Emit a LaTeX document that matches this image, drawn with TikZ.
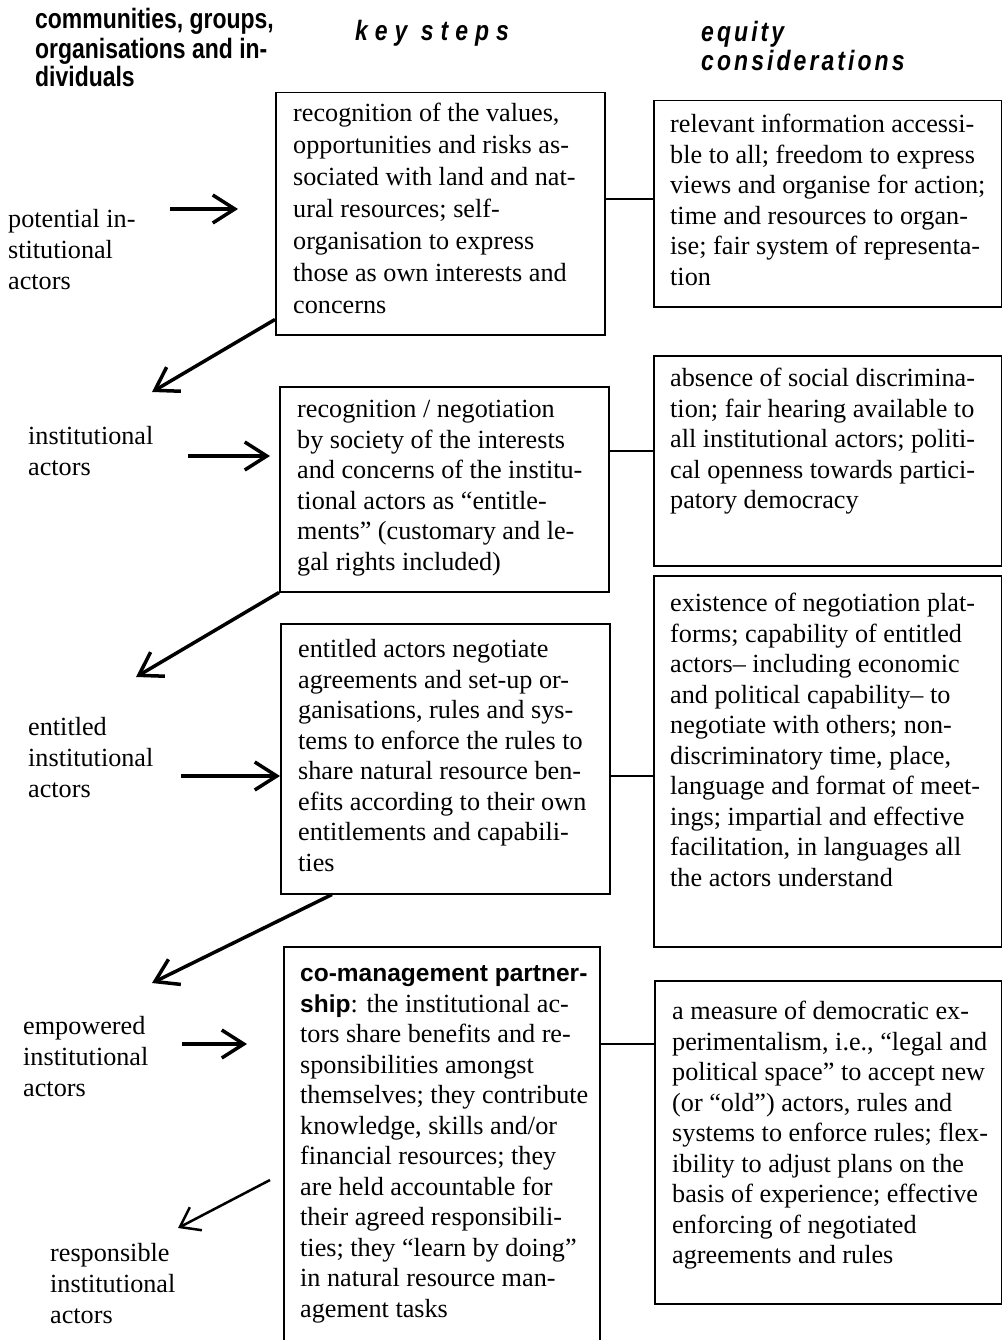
\documentclass[tikz,border=0pt]{standalone}
\usepackage{fontspec}
\setmainfont{Liberation Serif}
\newfontfamily\hdr[FakeStretch=0.82]{Liberation Sans}
\newfontfamily\hdrsp[FakeStretch=0.82,LetterSpace=11]{Liberation Sans}
\newfontfamily\hdrk[FakeStretch=0.82,LetterSpace=25]{Liberation Sans}
\newfontfamily\bsans{Liberation Sans}
\usetikzlibrary{arrows.meta}
\begin{document}
\begin{tikzpicture}[x=1pt,y=-1pt,
  box/.style={draw,line width=1.5pt,rectangle,inner sep=0pt,anchor=north west},
  txt/.style={anchor=north west,inner sep=0pt,align=left,font=\fontsize{26.2}{30.5}\selectfont},
  txtw/.style={anchor=north west,inner sep=0pt,align=left,font=\fontsize{26.2}{32}\selectfont},
  lab/.style={anchor=north west,inner sep=0pt,align=left,font=\fontsize{26.2}{31}\selectfont},
  hd/.style={anchor=north west,inner sep=0pt,align=left,font=\hdr\bfseries\fontsize{28}{28.5}\selectfont},
  hdi/.style={anchor=north west,inner sep=0pt,align=left,font=\hdrsp\bfseries\itshape\fontsize{28}{27}\selectfont},
  hdk/.style={anchor=north west,inner sep=0pt,align=left,font=\hdrk\bfseries\itshape\fontsize{28}{27}\selectfont},
  arr/.style={line width=3.5pt,-{Straight Barb[length=22pt,width=28pt]}},
  arrs/.style={line width=2.5pt,-{Straight Barb[length=18pt,width=26pt]}},
  link/.style={line width=1.2pt}]
\useasboundingbox (0,0) rectangle (1002,1340);
\clip (0,0) rectangle (1002,1340);

% headers
\node[hd] (h1) at (35,8) {\strut communities, groups,\\organisations and in-\\dividuals};
\node[hdk] (h2) at (355,20) {\strut key steps};
\node[hdi] (h3) at (701,21) {\strut equity\\considerations};

% boxes
\node[box,minimum width=329pt,minimum height=242pt] (L1) at (275,92) {};
\node[box,minimum width=347.5pt,minimum height=206pt] (R1) at (653,100) {};
\node[box,minimum width=329pt,minimum height=205pt] (L2) at (279,386) {};
\node[box,minimum width=347.5pt,minimum height=210pt] (R2) at (653,355) {};
\node[box,minimum width=329pt,minimum height=270pt] (L3) at (280,623) {};
\node[box,minimum width=347.5pt,minimum height=371pt] (R3) at (653,575) {};
\node[box,minimum width=316pt,minimum height=420pt] (L4) at (283,946) {};
\node[box,minimum width=346.5pt,minimum height=323pt] (R4) at (654,980) {};

% box texts
\node[txtw] (t1) at (293,99) {\strut recognition of the values,\\opportunities and risks as-\\sociated with land and nat-\\ural resources; self-\\organisation to express\\those as own interests and\\concerns};
\node[txt] (u1) at (670,111) {\strut relevant information accessi-\\ble to all; freedom to express\\views and organise for action;\\time and resources to organ-\\ise; fair system of representa-\\tion};
\node[txt] (t2) at (297,396) {\strut recognition / negotiation\\by society of the interests\\and concerns of the institu-\\tional actors as “entitle-\\ments” (customary and le-\\gal rights included)};
\node[txt] (u2) at (670,365) {\strut absence of social discrimina-\\tion; fair hearing available to\\all institutional actors; politi-\\cal openness towards partici-\\patory democracy};
\node[txt] (t3) at (298,636) {\strut entitled actors negotiate\\agreements and set-up or-\\ganisations, rules and sys-\\tems to enforce the rules to\\share natural resource ben-\\efits according to their own\\entitlements and capabili-\\ties};
\node[txt] (u3) at (670,590) {\strut existence of negotiation plat-\\forms; capability of entitled\\actors– including economic\\and political capability– to\\negotiate with others; non-\\discriminatory time, place,\\language and format of meet-\\ings; impartial and effective\\facilitation, in languages all\\the actors understand};
\node[txt] (t4) at (300,960) {\strut{\bsans\bfseries\fontsize{24.5}{30.5}\selectfont co-management partner-}\\{\bsans\bfseries\fontsize{24.5}{30.5}\selectfont ship}: the institutional ac-\\tors share benefits and re-\\sponsibilities amongst\\themselves; they contribute\\knowledge, skills and/or\\financial resources; they\\are held accountable for\\their agreed responsibili-\\ties; they “learn by doing”\\in natural resource man-\\agement tasks};
\node[txt] (u4) at (672,998) {\strut a measure of democratic ex-\\perimentalism, i.e., “legal and\\political space” to accept new\\(or “old”) actors, rules and\\systems to enforce rules; flex-\\ibility to adjust plans on the\\basis of experience; effective\\enforcing of negotiated\\agreements and rules};

% left labels
\node[lab] (p1) at (8,206) {\strut potential in-\\stitutional\\actors};
\node[lab] (p2) at (28,423) {\strut institutional\\actors};
\node[lab] (p3) at (28,714) {\strut entitled\\institutional\\actors};
\node[lab] (p4) at (23,1013) {\strut empowered\\institutional\\actors};
\node[lab] (p5) at (50,1240) {\strut responsible\\institutional\\actors};

% arrow end points
\coordinate (a1s) at (170,209); \coordinate (a1e) at (238,209);
\coordinate (a2s) at (188,456); \coordinate (a2e) at (270,456);
\coordinate (a3s) at (181,776); \coordinate (a3e) at (280,776);
\coordinate (a4s) at (182,1044); \coordinate (a4e) at (247,1044);
\coordinate (d1e) at (152,392);
\coordinate (d2e) at (136,677);
\coordinate (d3e) at (152,983);
\coordinate (d4s) at (270,1180); \coordinate (d4e) at (178,1228);

\draw[arr] (a1s) -- (a1e);
\draw[arr] (a2s) -- (a2e);
\draw[arr] (a3s) -- (a3e);
\draw[arr] (a4s) -- (a4e);
\draw[arr] ([yshift=16pt]L1.south west) -- (d1e);
\draw[arr] (L2.south west) -- (d2e);
\draw[arr] ([xshift=52pt]L3.south west) -- (d3e);
\draw[arrs] (d4s) -- (d4e);

% links
\coordinate (k1) at (0,199);
\coordinate (k2) at (0,451);
\coordinate (k3) at (0,776);
\coordinate (k4) at (0,1044);
\draw[link] (L1.east |- k1) -- (R1.west |- k1);
\draw[link] (L2.east |- k2) -- (R2.west |- k2);
\draw[link] (L3.east |- k3) -- (R3.west |- k3);
\draw[link] (L4.east |- k4) -- (R4.west |- k4);
\end{tikzpicture}
\end{document}
